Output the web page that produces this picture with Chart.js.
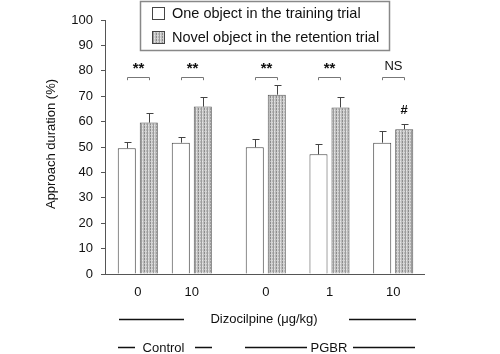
<!DOCTYPE html>
<html><head><meta charset="utf-8">
<script src="https://cdn.jsdelivr.net/npm/chart.js@4"></script>
<style>html,body{margin:0;padding:0;background:#fff}#w{width:500px;height:354px}</style>
</head><body><div id="w"><canvas id="c" width="500" height="354"></canvas></div>
<script>
const groupLabels = ['0', '10', '0', '1', '10'];
const groupPositions = [1, 2, 3.37, 4.55, 5.73];
const trainingMeans = [49.5, 51.7, 49.9, 47.1, 51.7];
const trainingErrors = [2.3, 2.3, 3.4, 4.0, 4.5];
const retentionMeans = [59.6, 65.9, 70.6, 65.6, 57.0];
const retentionErrors = [3.9, 3.7, 3.9, 4.0, 2.2];
const significance = ['**', '**', '**', '**', 'NS'];
const retentionMarks = ['', '', '', '', '#'];
const yTicks = [0, 10, 20, 30, 40, 50, 60, 70, 80, 90, 100];
const seriesNames = ['One object in the training trial', 'Novel object in the retention trial'];
const xTitle = 'Dizocilpine (\u03bcg/kg)';
const yTitle = 'Approach duration (%)';
const groupNames = ['Control', 'PGBR'];

const FONT = '"Liberation Sans", Arial, sans-serif';
Chart.defaults.font.family = FONT;
Chart.defaults.font.size = 13;
Chart.defaults.color = '#111';

function makeHatch(ctx) {
  const c = document.createElement('canvas'); c.width = 6; c.height = 3;
  const g = c.getContext('2d');
  const cols = ['#8c8c8c', '#d6d6d6', '#b6b6b6', '#9c9c9c', '#d2d2d2', '#bebebe'];
  cols.forEach((col, i) => { g.fillStyle = col; g.fillRect(i, 0, 1, 3); });
  g.fillStyle = 'rgba(255,255,255,0.45)';
  for (let i = 0; i < 6; i += 2) g.fillRect(i, 2, 1, 1);
  return ctx.createPattern(c, 'repeat');
}
const cctx = document.getElementById('c').getContext('2d');
const hatch = makeHatch(cctx);

const errs = [trainingErrors, retentionErrors];

const deco = {
  id: 'deco',
  afterDatasetsDraw(chart) {
    const ctx = chart.ctx;
    const ys = chart.scales.y;
    ctx.save();
    // error bars
    ctx.strokeStyle = '#444'; ctx.lineWidth = 1;
    chart.data.datasets.forEach((ds, di) => {
      const meta = chart.getDatasetMeta(di);
      meta.data.forEach((el, i) => {
        const v = ds.data[i].y;
        const top = ys.getPixelForValue(v + errs[di][i]);
        const x = Math.round(el.x) + 0.5;
        ctx.beginPath();
        ctx.moveTo(x, el.y); ctx.lineTo(x, Math.round(top) + 0.5);
        ctx.moveTo(x - 3, Math.round(top) + 0.5); ctx.lineTo(x + 4, Math.round(top) + 0.5);
        ctx.stroke();
      });
    });
    // brackets and significance
    const m0 = chart.getDatasetMeta(0), m1 = chart.getDatasetMeta(1);
    ctx.strokeStyle = '#777';
    ctx.fillStyle = '#111';
    ctx.textAlign = 'center'; ctx.textBaseline = 'middle';
    significance.forEach((s, i) => {
      const x0 = Math.round(m0.data[i].x) + 0.5, x1 = Math.round(m1.data[i].x) + 0.5;
      const yl = Math.round(ys.getPixelForValue(77.6)) + 0.5;
      const ye = ys.getPixelForValue(76.3);
      ctx.beginPath();
      ctx.moveTo(x0, ye); ctx.lineTo(x0, yl); ctx.lineTo(x1, yl); ctx.lineTo(x1, ye);
      ctx.stroke();
      if (s === 'NS') {
        ctx.font = '13px ' + FONT;
        ctx.fillText(s, (x0 + x1) / 2, ys.getPixelForValue(81.8));
      } else {
        ctx.font = 'bold 15px ' + FONT;
        ctx.fillText(s, (x0 + x1) / 2, ys.getPixelForValue(80.6));
      }
    });
    retentionMarks.forEach((s, i) => {
      if (!s) return;
      ctx.font = 'bold 13px ' + FONT;
      ctx.fillText(s, m1.data[i].x, ys.getPixelForValue(retentionMeans[i] + retentionErrors[i] + 5.3));
    });
    // legend
    ctx.strokeStyle = '#888'; ctx.lineWidth = 1.5;
    ctx.strokeRect(140.5, 1.5, 249, 49);
    ctx.lineWidth = 1; ctx.strokeStyle = '#444';
    ctx.fillStyle = '#fff'; ctx.fillRect(152.5, 7.5, 12, 12); ctx.strokeRect(152.5, 7.5, 12, 12);
    ctx.fillStyle = hatch; ctx.fillRect(152.5, 31.5, 12, 12); ctx.strokeRect(152.5, 31.5, 12, 12);
    ctx.fillStyle = '#111'; ctx.font = '14.5px ' + FONT; ctx.textAlign = 'left';
    ctx.fillText(seriesNames[0], 172, 13.5);
    ctx.fillText(seriesNames[1], 172, 37.5);
    // y title
    ctx.font = '13px ' + FONT;
    ctx.save();
    ctx.translate(51, 144); ctx.rotate(-Math.PI / 2);
    ctx.textAlign = 'center'; ctx.fillText(yTitle, 0, 0);
    ctx.restore();
    // x title row
    ctx.textAlign = 'center';
    ctx.fillText(xTitle, 264, 319);
    ctx.strokeStyle = '#111'; ctx.lineWidth = 1.6;
    ctx.beginPath();
    ctx.moveTo(119, 319.5); ctx.lineTo(184, 319.5);
    ctx.moveTo(349, 319.5); ctx.lineTo(416, 319.5);
    ctx.stroke();
    // group row
    ctx.fillText(groupNames[0], 163.5, 348);
    ctx.fillText(groupNames[1], 329, 348);
    ctx.beginPath();
    ctx.moveTo(118, 347.5); ctx.lineTo(135, 347.5);
    ctx.moveTo(195, 347.5); ctx.lineTo(212, 347.5);
    ctx.moveTo(245, 347.5); ctx.lineTo(307, 347.5);
    ctx.moveTo(353, 347.5); ctx.lineTo(415, 347.5);
    ctx.stroke();
    ctx.restore();
  }
};

new Chart(cctx, {
  type: 'bar',
  data: {
    datasets: [
      { label: seriesNames[0], data: groupPositions.map((x, i) => ({ x, y: trainingMeans[i] })),
        backgroundColor: '#fff', borderColor: '#444', borderWidth: 1, borderSkipped: 'bottom' },
      { label: seriesNames[1], data: groupPositions.map((x, i) => ({ x, y: retentionMeans[i] })),
        backgroundColor: hatch, borderColor: '#555', borderWidth: 1, borderSkipped: 'bottom' }
    ]
  },
  options: {
    responsive: false, animation: false,
    categoryPercentage: 0.815, barPercentage: 0.82,
    layout: { padding: { top: 20, right: 76, left: 0, bottom: 0 } },
    plugins: { legend: { display: false }, tooltip: { enabled: false } },
    scales: {
      x: {
        type: 'linear', min: 0.393, max: 6.3, offset: false,
        afterBuildTicks(scale) { scale.ticks = groupPositions.map(v => ({ value: v })); },
        afterFit(scale) { scale.height = 80; },
        ticks: { autoSkip: false, maxRotation: 0, padding: 11, color: '#111',
          callback: (v, i) => groupLabels[i] },
        grid: { display: false, drawTicks: false, offset: false },
        border: { display: true, color: '#555', width: 1 }
      },
      y: {
        min: 0, max: 100,
        afterBuildTicks(scale) { scale.ticks = yTicks.map(v => ({ value: v })); },
        afterFit(scale) { scale.width = 105; },
        ticks: { padding: 8, color: '#111' },
        grid: { display: true, drawOnChartArea: false, drawTicks: true, tickLength: 4, color: '#555' },
        border: { display: true, color: '#555', width: 1 }
      }
    }
  },
  plugins: [deco]
});
</script></body></html>
